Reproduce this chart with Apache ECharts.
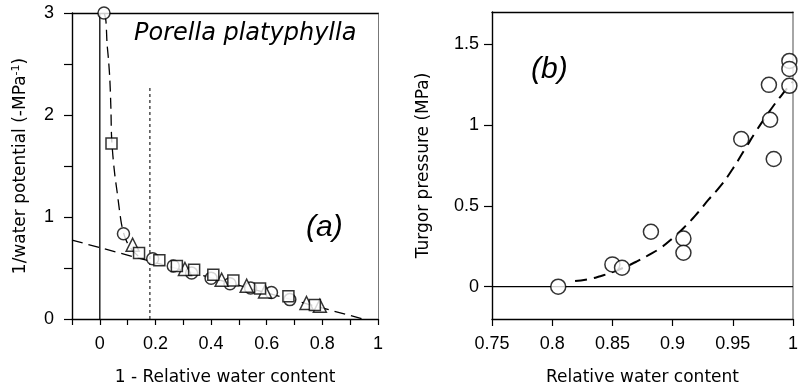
<!DOCTYPE html>
<html>
<head>
<meta charset="utf-8">
<script src="https://cdn.jsdelivr.net/npm/echarts@6/dist/echarts.min.js"></script>
<style>html,body{margin:0;padding:0;background:#fff;}#c{width:801px;height:391px;}</style>
</head>
<body>
<div id="c"></div>
<script>
// ---------- Panel (a) data ----------
const aCircles = [[0.015,3.0],[0.085,0.836],[0.19,0.59],[0.264,0.52],[0.33,0.45],[0.40,0.40],[0.468,0.346],[0.542,0.304],[0.617,0.26],[0.683,0.19]];
const aSquares = [[0.042,1.72],[0.141,0.647],[0.214,0.575],[0.277,0.52],[0.339,0.483],[0.408,0.434],[0.48,0.378],[0.576,0.30],[0.678,0.222],[0.773,0.137]];
const aTriangles = [[0.118,0.728],[0.306,0.49],[0.438,0.385],[0.528,0.326],[0.594,0.27],[0.743,0.157],[0.791,0.13]];
const aCurve = [[0.016,3.0],[0.022,2.92],[0.026,2.7],[0.031,2.55],[0.036,2.35],[0.04,2.05],[0.042,1.8],[0.047,1.6],[0.054,1.41],[0.062,1.25],[0.07,1.08],[0.078,0.93],[0.088,0.82],[0.1,0.74],[0.115,0.68],[0.135,0.625],[0.16,0.585]];
const aLine = [[-0.1,0.774],[0.946,0.0]];
const aZeroLine = [[0,0],[0,3]];
const aDotLine = [[0.18,0],[0.18,2.27]];
const aXTicks = [-0.1,0,0.1,0.2,0.3,0.4,0.5,0.6,0.7,0.8,0.9,1];
const aXLabels = [0,0.2,0.4,0.6,0.8,1];
const aYTicks = [0,0.5,1,1.5,2,2.5,3];
const aYLabels = [0,1,2,3];

// ---------- Panel (b) data ----------
const bCircles = [[0.805,0.0],[0.850,0.138],[0.858,0.117],[0.882,0.34],[0.909,0.298],[0.909,0.21],[0.957,0.914],[0.981,1.033],[0.980,1.249],[0.984,0.79],[0.997,1.397],[0.997,1.348],[0.997,1.243]];
const bCurve = [[0.819,0.035],[0.83,0.046],[0.84,0.065],[0.85,0.09],[0.86,0.12],[0.87,0.155],[0.88,0.195],[0.89,0.24],[0.90,0.30],[0.91,0.37],[0.92,0.45],[0.93,0.54],[0.94,0.625],[0.95,0.73],[0.96,0.85],[0.97,0.97],[0.98,1.08],[0.99,1.18],[1.0,1.27]];
const bZeroLine = [[0.75,0],[1,0]];
const bXTicks = [0.75,0.8,0.85,0.9,0.95,1];
const bYTicks = [0,0.5,1,1.5];

const LAB = {color:'#000', fontFamily:'Liberation Sans, Arial, sans-serif', fontSize:18};
const NAME = {color:'#000', fontFamily:'DejaVu Sans, sans-serif', fontSize:17};
const AX = {lineStyle:{color:'#000', width:1.4}};

const chart = echarts.init(document.getElementById('c'), null, {renderer:'canvas'});
const mk = {color:'#fff', borderColor:'#000', borderWidth:1.5};

chart.setOption({
  animation:false,
  backgroundColor:'#fff',
  title:[
    {text:'Porella platyphylla', left:134, top:22, padding:0, textStyle:{fontFamily:'DejaVu Sans, sans-serif', fontStyle:'italic', fontWeight:'normal', fontSize:24, color:'#000'}},
    {text:'(a)', left:306, top:213, padding:0, textStyle:{fontFamily:'Liberation Sans, Arial, sans-serif', fontStyle:'italic', fontWeight:'normal', fontSize:30, color:'#000'}},
    {text:'(b)', left:531, top:55, padding:0, textStyle:{fontFamily:'Liberation Sans, Arial, sans-serif', fontStyle:'italic', fontWeight:'normal', fontSize:30, color:'#000'}}
  ],
  grid:[
    {left:72, top:13, width:306, height:306, containLabel:false},
    {left:492, top:12, width:306, height:308, containLabel:false}
  ],
  xAxis:[
    {gridIndex:0, type:'value', min:-0.1, max:1, position:'bottom',
     axisLine:{onZero:false, ...AX}, splitLine:{show:false},
     axisTick:{customValues:aXTicks, length:6, lineStyle:{color:'#000', width:1.2}},
     axisLabel:{customValues:aXLabels, margin:16, ...LAB, showMinLabel:true, showMaxLabel:true},
     name:'1 - Relative water content', nameLocation:'middle', nameGap:50, nameTextStyle:NAME},
    {gridIndex:0, type:'value', min:-0.1, max:1, position:'top',
     axisLine:{onZero:false, ...AX}, axisTick:{show:false}, axisLabel:{show:false}, splitLine:{show:false}},
    {gridIndex:1, type:'value', min:0.75, max:1, position:'bottom',
     axisLine:{onZero:false, ...AX}, splitLine:{show:false},
     axisTick:{customValues:bXTicks, length:7, lineStyle:{color:'#000', width:1.2}},
     axisLabel:{customValues:bXTicks, margin:16, ...LAB, showMinLabel:true, showMaxLabel:true},
     name:'Relative water content', nameLocation:'middle', nameGap:50, nameTextStyle:NAME},
    {gridIndex:1, type:'value', min:0.75, max:1, position:'top',
     axisLine:{onZero:false, ...AX}, axisTick:{show:false}, axisLabel:{show:false}, splitLine:{show:false}}
  ],
  yAxis:[
    {gridIndex:0, type:'value', min:0, max:3, position:'left',
     axisLine:{onZero:false, ...AX}, splitLine:{show:false},
     axisTick:{customValues:aYTicks, length:8, lineStyle:{color:'#000', width:1.2}},
     axisLabel:{customValues:aYLabels, margin:18, ...LAB, showMinLabel:true, showMaxLabel:true},
     name:'1/water potential (-MPa{s|-1})', nameLocation:'middle', nameGap:42, nameRotate:90,
     nameTextStyle:{...NAME, rich:{s:{fontFamily:'DejaVu Sans, sans-serif', fontSize:11, color:'#000', verticalAlign:'top', padding:[0,0,8,0]}}}},
    {gridIndex:0, type:'value', min:0, max:3, position:'right',
     axisLine:{onZero:false, lineStyle:{color:'#777', width:1}}, axisTick:{show:false}, axisLabel:{show:false}, splitLine:{show:false}},
    {gridIndex:1, type:'value', min:-0.2, max:1.7, position:'left',
     axisLine:{onZero:false, ...AX}, splitLine:{show:false},
     axisTick:{customValues:bYTicks, length:8, lineStyle:{color:'#000', width:1.2}},
     axisLabel:{customValues:bYTicks, margin:13, ...LAB, showMinLabel:true, showMaxLabel:true},
     name:'Turgor pressure (MPa)', nameLocation:'middle', nameGap:60, nameRotate:90, nameTextStyle:NAME},
    {gridIndex:1, type:'value', min:-0.2, max:1.7, position:'right',
     axisLine:{onZero:false, lineStyle:{color:'#888', width:1.5}}, axisTick:{show:false}, axisLabel:{show:false}, splitLine:{show:false}}
  ],
  series:[
    {type:'line', xAxisIndex:0, yAxisIndex:0, data:aZeroLine, symbol:'none', lineStyle:{color:'#000', width:1.3}, z:2},
    {type:'line', xAxisIndex:0, yAxisIndex:0, data:aDotLine, symbol:'none', lineStyle:{color:'#222', width:1.2, type:[3,3]}, z:2},
    {type:'line', xAxisIndex:0, yAxisIndex:0, data:aLine, symbol:'none', lineStyle:{color:'#000', width:1.3, type:[11,6]}, z:2},
    {type:'line', xAxisIndex:0, yAxisIndex:0, data:aCurve, symbol:'none', smooth:0.3, lineStyle:{color:'#000', width:1.3, type:[11,6]}, z:2},
    {type:'scatter', xAxisIndex:0, yAxisIndex:0, data:aCircles, symbol:'circle', symbolSize:12, itemStyle:mk, clip:false, z:5},
    {type:'scatter', xAxisIndex:0, yAxisIndex:0, data:aTriangles, symbol:'triangle', symbolSize:13, itemStyle:mk, clip:false, z:6},
    {type:'scatter', xAxisIndex:0, yAxisIndex:0, data:aSquares, symbol:'rect', symbolSize:11, itemStyle:mk, clip:false, z:7},
    {type:'line', xAxisIndex:2, yAxisIndex:2, data:bZeroLine, symbol:'none', lineStyle:{color:'#000', width:1.3}, z:2},
    {type:'line', xAxisIndex:2, yAxisIndex:2, data:bCurve, symbol:'none', smooth:true, lineStyle:{color:'#000', width:2, type:[12,7]}, z:2},
    {type:'scatter', xAxisIndex:2, yAxisIndex:2, data:bCircles, symbol:'circle', symbolSize:15, itemStyle:mk, clip:false, z:5}
  ]
});
</script>
</body>
</html>
